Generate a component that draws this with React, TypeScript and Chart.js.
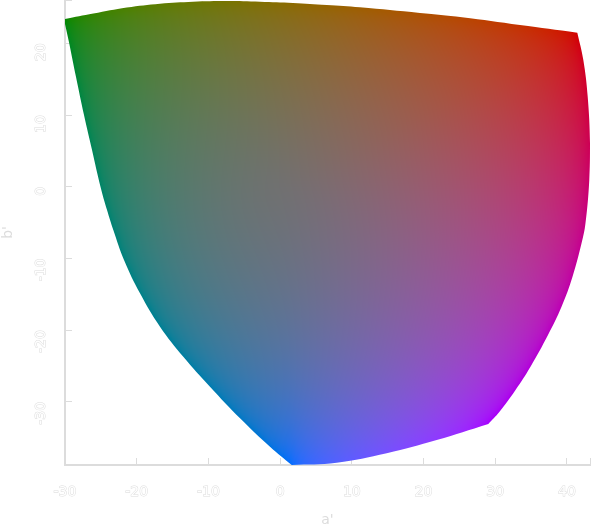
import React, { useEffect, useRef } from "react";
import { Chart, registerables } from "chart.js";

Chart.register(...registerables);

const gamutA = [-30.14,-26.05,-21.39,-16.75,-12.15,-7.45,-2.8,1.8,6.5,11.14,19.51,25.37,33.46,41.45,42.29,42.9,43.22,43.12,42.59,42.04,40.78,39.25,37.36,34.92,32.83,30.6,29.04,21.84,14.87,7.89,1.62,-1.41,-5.59,-9.78,-13.5,-16.75,-19.54,-21.77,-23.26,-24.14,-25.05,-26.23,-27.35,-28.47,-29.41];
const gamutB = [23.36,24.15,24.99,25.53,25.81,25.91,25.81,25.63,25.35,25.03,24.24,23.64,22.56,21.49,17.68,12.56,6.06,0.95,-5.09,-7.88,-12.54,-16.73,-20.67,-25.09,-28.34,-31.37,-33.08,-35.32,-37.17,-38.48,-38.8,-36.25,-32.29,-27.88,-23.7,-19.51,-14.86,-10.21,-6.03,-3.24,0.01,5.13,10.01,15.35,20.01];
const cornerIndex = [30, 26, 13, 0]; // blue, purple, red, green corners of the outline
const xTicks = [-30,-20,-10,0,10,20,30,40];
const yTicks = [-30,-20,-10,0,10,20];
const xRange = [-30, 43.22];
const yRange = [-38.8, 26.05];
const sliceLightness = 50;
const axisGrey = "#dcdcdc";

const mul = (m: number[][], v: number[]) => m.map(r => r[0]*v[0]+r[1]*v[1]+r[2]*v[2]);
const CAT = [[.7328,.4296,-.1624],[-.7036,1.6975,.0061],[.003,.0136,.9834]];
const CATi = [[1.096124,-.278869,.182745],[.454369,.473533,.072098],[-.009628,-.005698,1.015326]];
const HPE = [[.38971,.68898,-.07868],[-.22981,1.1834,.04641],[0,0,1]];
const HPEi = [[1.910197,-1.112124,.201908],[.37095,.629054,-.000008],[0,0,1]];
const XYZw = [95.047,100,108.883];
const LA = 20;
const k = 1/(5*LA+1);
const FL = .2*k**4*(5*LA)+.1*(1-k**4)**2*Math.cbrt(5*LA);
const n = .2, z = 1.48+Math.sqrt(n), Nbb = .725*n**-.2, cSur = .69;
const D = 1;
const RGBw = mul(CAT, XYZw);
const Drgb = RGBw.map(v => D*100/v+1-D);
const RGBpw = mul(HPE, mul(CATi, RGBw.map((v,i)=>v*Drgb[i])));
const RGBaw = RGBpw.map(v => { const t=(FL*v/100)**.42; return 400*t/(27.13+t)+.1; });
const Aw = (2*RGBaw[0]+RGBaw[1]+RGBaw[2]/20-.305)*Nbb;

function ucsToLinear(Jp: number, ap: number, bp: number): number[] {
  const Mp = Math.hypot(ap,bp);
  const M = (Math.exp(.0228*Mp)-1)/.0228;
  const h = Math.atan2(bp,ap);
  const J = Jp/(1.7-.007*Jp);
  const C = M/FL**.25;
  const t = (C/(Math.sqrt(J/100)*(1.64-.29**n)**.73))**(1/.9);
  const et = .25*(Math.cos(h+2)+3.8);
  const A = Aw*(J/100)**(1/(cSur*z));
  const p2 = A/Nbb+.305, p3 = 21/20;
  let a = 0, b = 0;
  if (t > 1e-9) {
    const p1 = (50000/13)*Nbb*et/t;
    const s = Math.sin(h), c = Math.cos(h);
    if (Math.abs(s) >= Math.abs(c)) {
      const p4 = p1/s;
      b = p2*(2+p3)*(460/1403)/(p4+(2+p3)*(220/1403)*(c/s)-27/1403+p3*(6300/1403));
      a = b*c/s;
    } else {
      const p5 = p1/c;
      a = p2*(2+p3)*(460/1403)/(p5+(2+p3)*(220/1403)-(27/1403-p3*(6300/1403))*(s/c));
      b = a*s/c;
    }
  }
  const Ra = [(460*p2+451*a+288*b)/1403,(460*p2-891*a-261*b)/1403,(460*p2-220*a-6300*b)/1403];
  const Rp = Ra.map(v => { const d=v-.1, q=Math.abs(d); return Math.sign(d)*(100/FL)*((27.13*q)/(400-q))**(1/.42); });
  const Rc = mul(CAT, mul(HPEi, Rp));
  const XYZ = mul(CATi, Rc.map((v,i)=>v/Drgb[i])).map(v=>v/100);
  return [
    3.2406*XYZ[0]-1.5372*XYZ[1]-.4986*XYZ[2],
    -.9689*XYZ[0]+1.8758*XYZ[1]+.0415*XYZ[2],
    .0557*XYZ[0]-.204*XYZ[1]+1.057*XYZ[2],
  ];
}
const enc = (v: number) => { const c=Math.min(1,Math.max(0,v)); return 255*(c<=.0031308?12.92*c:1.055*c**(1/2.4)-.055); };

const TAU = 2*Math.PI;
const STEPS = 1440;
function outlineRadius(th: number) {
  const dx = Math.cos(th), dy = Math.sin(th);
  let best = 0;
  for (let i = 0; i < gamutA.length; i++) {
    const j = (i+1) % gamutA.length;
    const ex = gamutA[j]-gamutA[i], ey = gamutB[j]-gamutB[i];
    const det = dx*ey-dy*ex;
    if (Math.abs(det) < 1e-9) continue;
    const t = (gamutA[i]*ey-gamutB[i]*ex)/det;
    const u = (gamutA[i]*dy-gamutB[i]*dx)/det;
    if (t > 0 && u >= 0 && u <= 1) best = Math.max(best, t);
  }
  return best;
}
function modelLimit(th: number) {
  const dx = Math.cos(th), dy = Math.sin(th);
  let r = 1, side = "";
  while (r < 90) {
    const lin = ucsToLinear(sliceLightness, r*dx, r*dy);
    if (lin[0] < 0) side = "R"; else if (lin[1] < 0) side = "G"; else if (lin[2] < 0) side = "B"; else if (lin[2] > 1) side = "W";
    if (side) break;
    r += .1;
  }
  return { r, side };
}
// The four places where the model's limit changes side, in increasing angle from its blue corner.
function modelCorners(refCorners: number[]) {
  const pairs = ["RW", "WG", "GB", "BR"];
  const found: (number | null)[] = [null, null, null, null];
  let prev = modelLimit(-Math.PI).side;
  for (let i = 1; i <= 1440; i++) {
    const th = -Math.PI+TAU*i/1440;
    const side = modelLimit(th).side;
    const at = pairs.indexOf(prev+side);
    if (at >= 0) found[at] = th;
    prev = side;
  }
  const base = found[0] ?? refCorners[0];
  return found.map((v, i) => {
    let t = v ?? refCorners[i];
    while (t < base) t += TAU;
    return t;
  });
}
function buildTables() {
  const ref = cornerIndex.map(i => Math.atan2(gamutB[i], gamutA[i]));
  const mod = modelCorners(ref);
  const refU = [...ref, ref[0]+TAU];
  const modU = [...mod, mod[0]+TAU];
  const modelAngle = (th: number) => {
    let t = th;
    while (t < refU[0]) t += TAU;
    while (t >= refU[4]) t -= TAU;
    for (let s = 0; s < 4; s++) {
      if (t < refU[s+1]) return modU[s]+(t-refU[s])/(refU[s+1]-refU[s])*(modU[s+1]-modU[s]);
    }
    return t;
  };
  const outline: number[] = [], angle: number[] = [], ratio: number[] = [];
  for (let i = 0; i < STEPS; i++) {
    const th = -Math.PI+TAU*(i+.5)/STEPS;
    outline.push(outlineRadius(th));
    angle.push(modelAngle(th));
    ratio.push(modelLimit(angle[i]).r/outline[i]);
  }
  const smooth = ratio.map((_, i) => {
    let s = 0;
    for (let d = -4; d <= 4; d++) s += ratio[(i+d+STEPS)%STEPS];
    return s/9;
  });
  return { outline, angle, smooth };
}

let cached: CanvasPattern | null = null;
function gamutPattern(chart: any) {
  if (cached) return cached;
  const { x, y } = chart.scales;
  if (!x || !y || !x.width) return "#888";
  const W = chart.width, H = chart.height;
  const { outline, angle, smooth } = buildTables();
  const off = document.createElement("canvas");
  off.width = W; off.height = H;
  const c = off.getContext("2d")!;
  const img = c.createImageData(W, H);
  for (let py = 0; py < H; py++) for (let px = 0; px < W; px++) {
    const a = x.getValueForPixel(px+.5), b = y.getValueForPixel(py+.5);
    const th = Math.atan2(b,a), r = Math.hypot(a,b);
    const idx = Math.min(STEPS-1, Math.floor((th+Math.PI)/TAU*STEPS));
    const rr = Math.min(1, r/outline[idx]);
    const f = 1+(smooth[idx]-1)*rr*rr;
    const lin = ucsToLinear(sliceLightness, r*f*Math.cos(angle[idx]), r*f*Math.sin(angle[idx]));
    const i = (py*W+px)*4;
    img.data[i]=enc(lin[0]); img.data[i+1]=enc(lin[1]); img.data[i+2]=enc(lin[2]); img.data[i+3]=255;
  }
  c.putImageData(img,0,0);
  cached = chart.ctx.createPattern(off,"no-repeat");
  return cached!;
}

const tickStyle = {
  autoSkip: false,
  includeBounds: false,
  font: { family: "DejaVu Sans", size: 14 },
  color: "#ffffff",
  textStrokeColor: axisGrey,
  textStrokeWidth: 1,
  callback: (v: number) => (Number.isInteger(v) && v % 10 === 0 ? String(v) : ""),
};
const noPad = (s: any) => { s.paddingLeft = s.paddingRight = s.paddingTop = s.paddingBottom = 0; };

export default function App() {
  const ref = useRef<HTMLCanvasElement>(null);
  useEffect(() => {
    document.body.style.margin = "0";
    cached = null;
    const chart = new Chart(ref.current!, {
      type: "line",
      data: {
        datasets: [{
          data: gamutA.flatMap((a,i)=>{
            const p = {x:a,y:gamutB[i]};
            return cornerIndex.includes(i) ? [p, {...p}] : [p];
          }),
          fill: "shape",
          borderWidth: 0,
          pointRadius: 0,
          tension: 0.4,
          backgroundColor: (ctx: any) => gamutPattern(ctx.chart),
        } as any],
      },
      options: {
        responsive: false,
        animation: false,
        parsing: false,
        layout: { padding: { right: 2, top: 0, bottom: 0, left: 0 } },
        plugins: { legend: { display: false }, tooltip: { enabled: false } },
        scales: {
          x: {
            type: "linear", min: xRange[0], max: xRange[1],
            afterFit: (s: any) => { s.height = 64; noPad(s); },
            afterBuildTicks: (s: any) => { s.ticks = [...xTicks, xRange[1]].map(value => ({ value })); },
            grid: { drawOnChartArea: false, drawTicks: true, tickLength: -7, color: axisGrey, lineWidth: 1 },
            border: { color: axisGrey, width: 2 },
            ticks: { ...tickStyle, maxRotation: 0, minRotation: 0, padding: 26 },
            title: { display: true, text: "a'", color: axisGrey, font: { family: "DejaVu Sans", size: 14 }, padding: { top: 6, bottom: 0 } },
          },
          y: {
            type: "linear", min: yRange[0], max: yRange[1],
            afterFit: (s: any) => { s.width = 65; noPad(s); },
            afterBuildTicks: (s: any) => { s.ticks = [yRange[0], ...yTicks, yRange[1]].map(value => ({ value })); },
            grid: { drawOnChartArea: false, drawTicks: true, tickLength: -7, color: axisGrey, lineWidth: 1 },
            border: { color: axisGrey, width: 2 },
            ticks: { ...tickStyle, minRotation: 90, maxRotation: 90, padding: 31 },
            title: { display: true, text: "b'", color: axisGrey, font: { family: "DejaVu Sans", size: 14 }, padding: { top: 0, bottom: 0 } },
          },
        },
      } as any,
    });
    return () => chart.destroy();
  }, []);
  return <canvas ref={ref} width={592} height={529} style={{ display: "block" }} />;
}
